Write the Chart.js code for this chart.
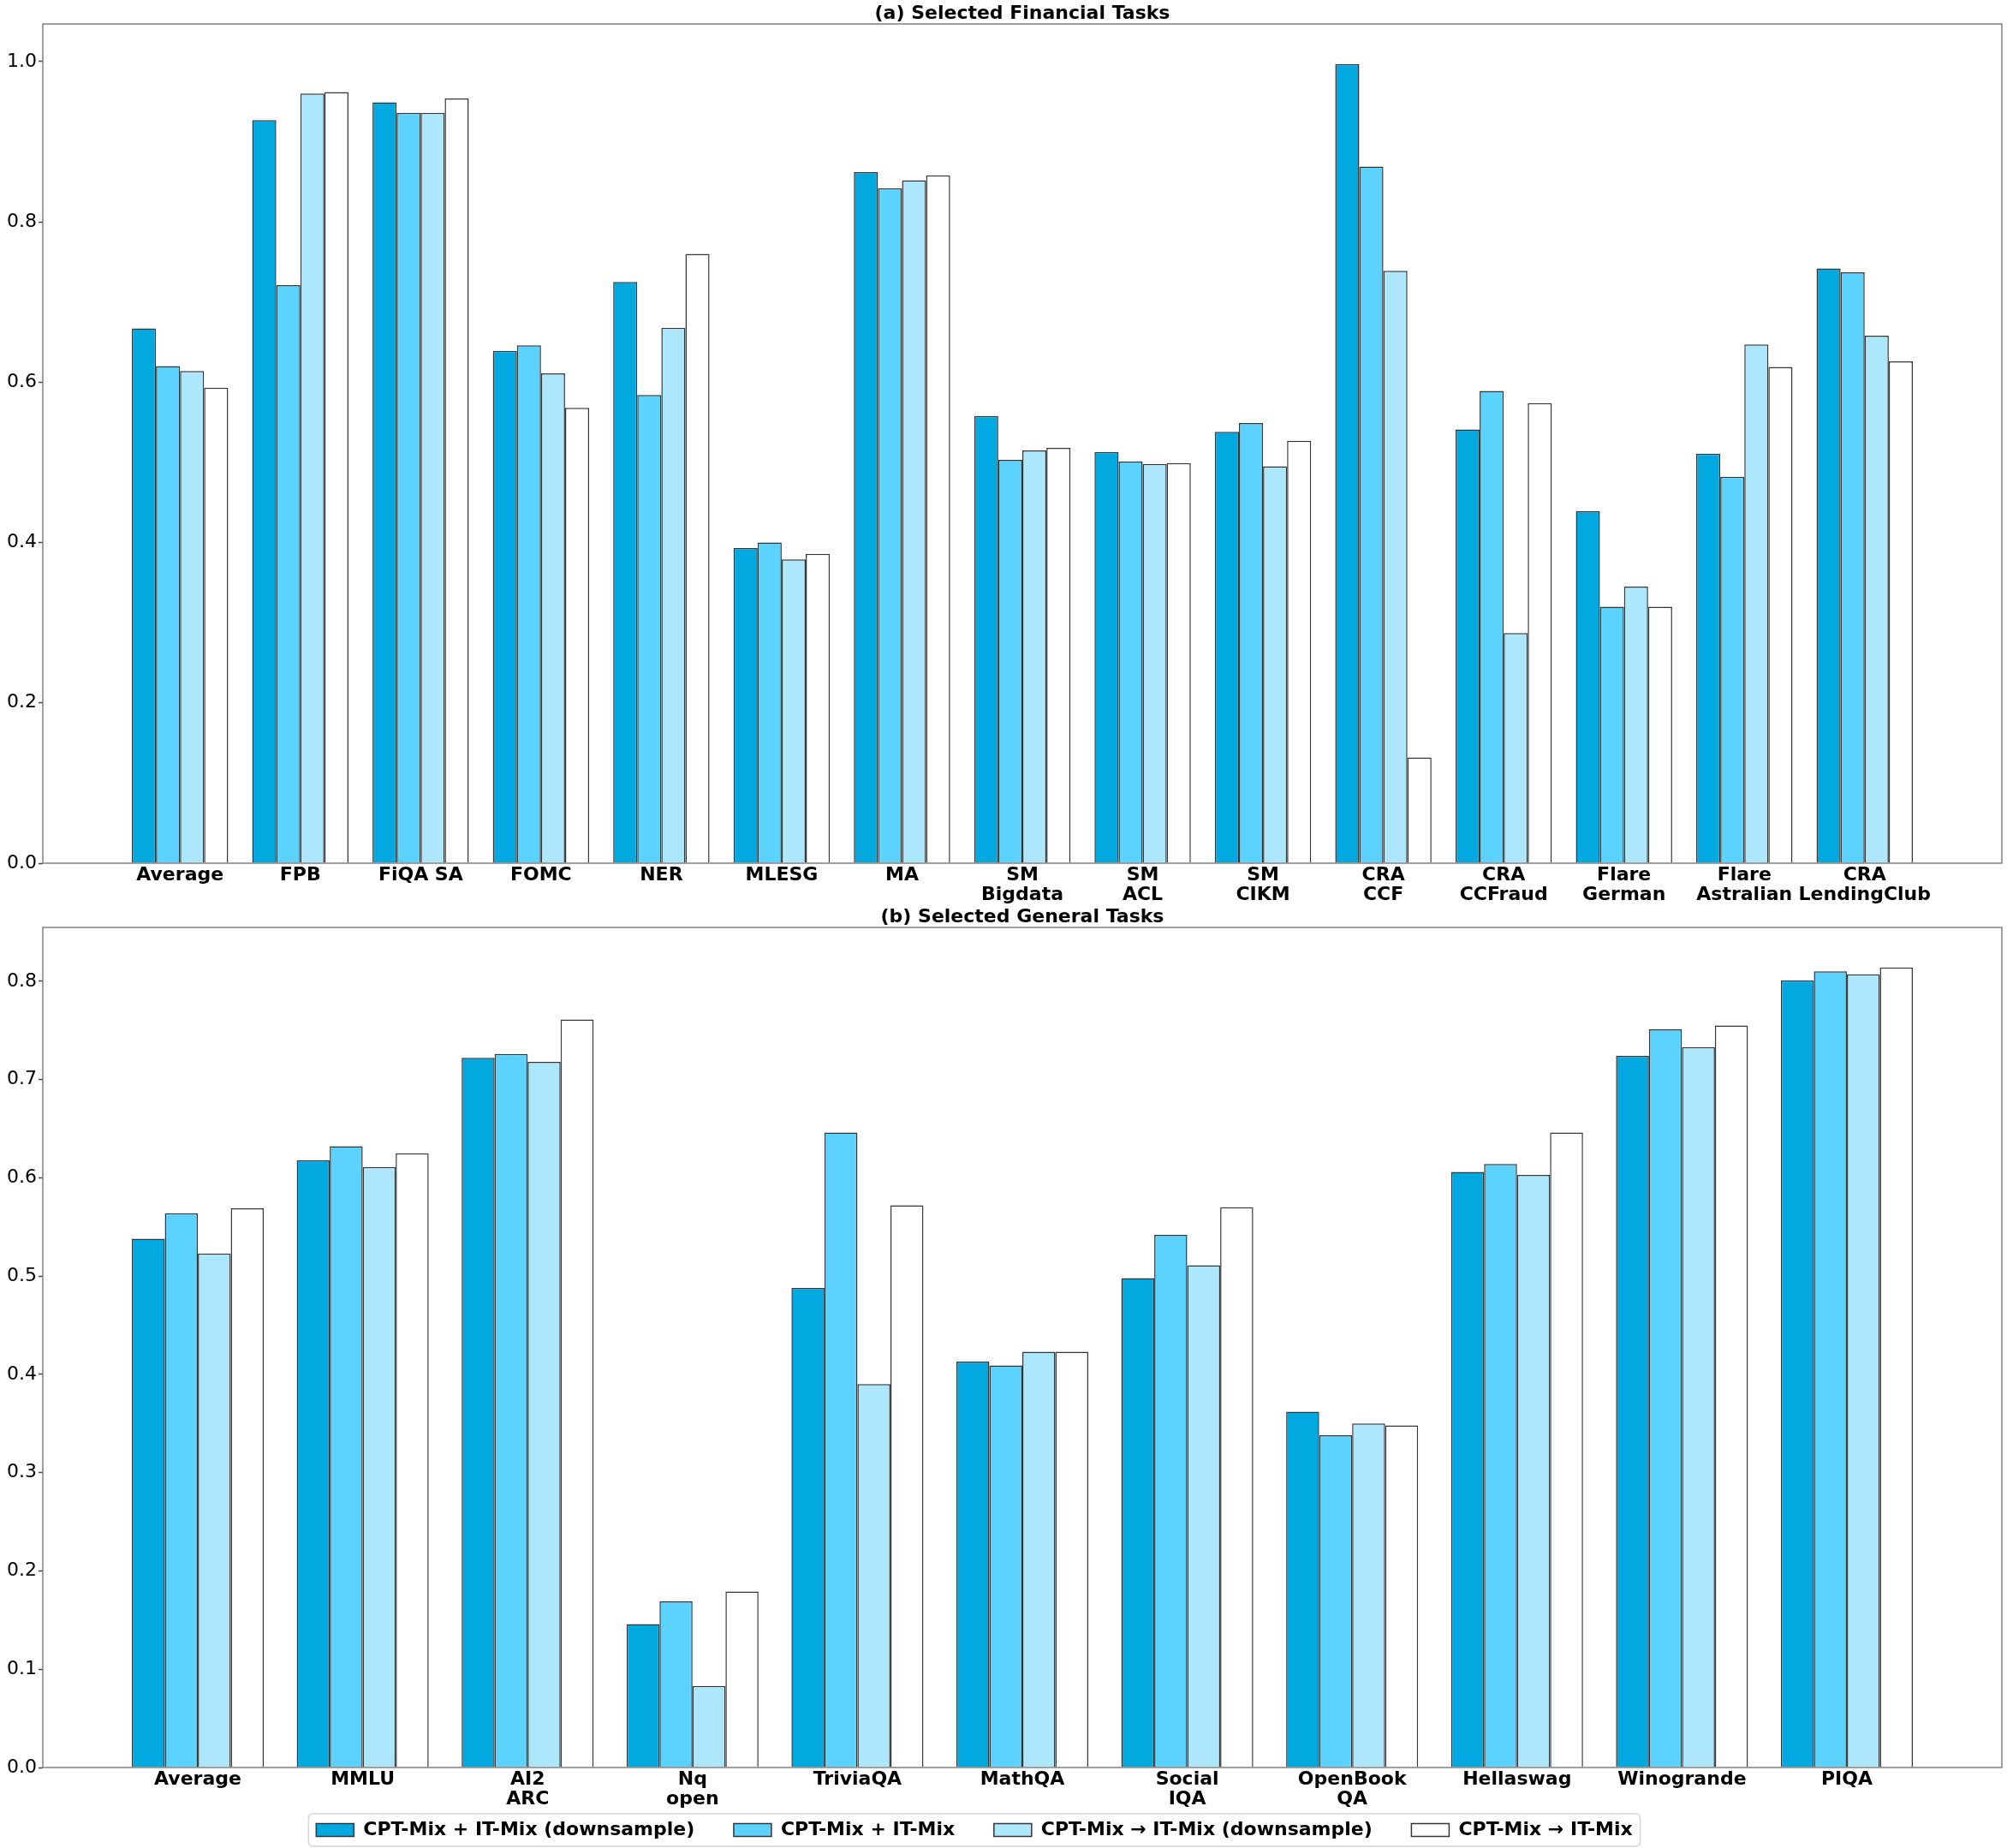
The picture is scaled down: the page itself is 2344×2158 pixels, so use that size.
<!DOCTYPE html>
<html>
<head>
<meta charset="utf-8">
<script src="https://cdn.jsdelivr.net/npm/chart.js@4.4.0/dist/chart.umd.min.js"></script>
<style>
  html, body { margin: 0; padding: 0; background: #fff; overflow: hidden; }
  canvas { display: block; }
</style>
</head>
<body>
<canvas id="fin" width="2344" height="1055"></canvas>
<canvas id="gen" width="2344" height="1103"></canvas>
<script>
// ---- data ----
const seriesNames = ['CPT-Mix + IT-Mix (downsample)', 'CPT-Mix + IT-Mix', 'CPT-Mix \u2192 IT-Mix (downsample)', 'CPT-Mix \u2192 IT-Mix'];

const finTasks = ['Average', 'FPB', 'FiQA SA', 'FOMC', 'NER', 'MLESG', 'MA', ['SM', 'Bigdata'], ['SM', 'ACL'], ['SM', 'CIKM'],
  ['CRA', 'CCF'], ['CRA', 'CCFraud'], ['Flare', 'German'], ['Flare', 'Astralian'], ['CRA', 'LendingClub']];
const finMixDown = [0.667, 0.927, 0.949, 0.639, 0.725, 0.393, 0.862, 0.558, 0.513, 0.538, 0.997, 0.541, 0.439, 0.511, 0.742];
const finMix     = [0.620, 0.721, 0.936, 0.646, 0.584, 0.400, 0.842, 0.503, 0.501, 0.549, 0.869, 0.589, 0.320, 0.482, 0.737];
const finSeqDown = [0.614, 0.960, 0.936, 0.611, 0.668, 0.379, 0.852, 0.515, 0.498, 0.495, 0.739, 0.287, 0.345, 0.647, 0.658];
const finSeq     = [0.593, 0.962, 0.954, 0.568, 0.760, 0.386, 0.858, 0.518, 0.499, 0.527, 0.132, 0.574, 0.320, 0.619, 0.626];

const genTasks = ['Average', 'MMLU', ['AI2', 'ARC'], ['Nq', 'open'], 'TriviaQA', 'MathQA', ['Social', 'IQA'], ['OpenBook', 'QA'],
  'Hellaswag', 'Winogrande', 'PIQA'];
const genMixDown = [0.538, 0.618, 0.722, 0.146, 0.488, 0.413, 0.498, 0.362, 0.606, 0.724, 0.801];
const genMix     = [0.564, 0.632, 0.726, 0.169, 0.646, 0.409, 0.542, 0.338, 0.614, 0.751, 0.810];
const genSeqDown = [0.523, 0.611, 0.718, 0.083, 0.390, 0.423, 0.511, 0.350, 0.603, 0.733, 0.807];
const genSeq     = [0.569, 0.625, 0.761, 0.179, 0.572, 0.423, 0.570, 0.348, 0.646, 0.755, 0.814];

const colors = ['#02a9e1', '#5cd3fe', '#ace7fe', '#ffffff'];

Chart.defaults.font.family = 'DejaVu Sans';
Chart.defaults.color = '#000';

// box round the plot area
const framePlugin = {
  id: 'frame',
  afterDatasetsDraw(chart) {
    const {ctx, chartArea: a} = chart;
    ctx.save();
    ctx.strokeStyle = '#808080';
    ctx.lineWidth = 1.5;
    ctx.strokeRect(a.left, a.top, a.right - a.left, a.bottom - a.top);
    ctx.restore();
  }
};

// nudge the legend and draw a frame round it
const legendBox = {
  id: 'legendBox',
  afterLayout(chart, args, opts) {
    const lg = chart.legend;
    if (lg && opts.shift) { lg.left += opts.shift; lg.right += opts.shift; }
  },
  afterDraw(chart) {
    const lg = chart.legend;
    if (!lg || !lg.options.display || !lg.legendHitBoxes || !lg.legendHitBoxes.length) return;
    const boxes = lg.legendHitBoxes;
    const left = Math.min(...boxes.map(b => b.left)) - 9;
    const right = Math.max(...boxes.map(b => b.left + b.width)) + 9;
    const mid = boxes[0].top + boxes[0].height / 2;
    const ctx = chart.ctx;
    ctx.save();
    ctx.strokeStyle = '#d6d6d6';
    ctx.lineWidth = 1.5;
    ctx.beginPath();
    ctx.roundRect(left, mid - 19, right - left, 38, 5);
    ctx.stroke();
    ctx.restore();
  }
};

function makeChart(id, tasks, series, title, step, showLegend) {
  const n = tasks.length;
  const span = n - 0.2;
  const all = series.flat();
  new Chart(document.getElementById(id), {
    type: 'bar',
    data: {
      datasets: series.map((vals, k) => ({
        label: seriesNames[k],
        data: vals.map((v, i) => ({x: i, y: v})),
        backgroundColor: colors[k],
        borderColor: '#353535',
        borderWidth: 1.5,
        borderSkipped: 'start',
        categoryPercentage: 0.8,
        barPercentage: 1.0
      }))
    },
    options: {
      responsive: false,
      animation: false,
      devicePixelRatio: 1,
      layout: {padding: {left: 0, right: 6, top: 0, bottom: 0}},
      plugins: {
        title: {
          display: true, text: title, fullSize: false, color: '#000',
          font: {size: 22, weight: 'bold', lineHeight: 1},
          padding: {top: 5, bottom: 1}
        },
        legend: {
          display: showLegend,
          position: 'bottom',
          labels: {
            boxWidth: 44, boxHeight: 15, padding: 15, color: '#000',
            font: {size: 22, weight: 'bold'},
            // wider gap between legend columns
            generateLabels: (chart) => {
              const items = Chart.defaults.plugins.legend.labels.generateLabels(chart);
              items.forEach((it, i) => { if (i < items.length - 1) it.text += '    '; });
              return items;
            }
          }
        },
        legendBox: {shift: -31},
        tooltip: {enabled: false}
      },
      scales: {
        x: {
          type: 'linear',
          offset: false,
          min: -0.4 - 0.05 * span,
          max: n - 0.6 + 0.05 * span,
          afterBuildTicks: (scale) => { scale.ticks = tasks.map((t, i) => ({value: i})); },
          afterFit: (scale) => { scale.height = 47; },
          grid: {display: false, drawTicks: false},
          border: {display: false},
          ticks: {
            autoSkip: false, maxRotation: 0, minRotation: 0, padding: 3, color: '#000',
            font: {size: 22, weight: 'bold', lineHeight: 1.05},
            callback: (v, i) => tasks[i]
          }
        },
        y: {
          min: 0,
          max: Math.max(...all) * 1.05,
          afterFit: (scale) => { scale.width = 50; },
          grid: {drawOnChartArea: false, drawTicks: true, tickLength: 5, tickColor: '#444', tickWidth: 1.5},
          border: {display: false},
          ticks: {
            stepSize: step, includeBounds: false, padding: 2, color: '#000',
            font: {size: 22},
            callback: (v) => v.toFixed(1)
          }
        }
      }
    },
    plugins: [framePlugin, legendBox]
  });
}

makeChart('fin', finTasks, [finMixDown, finMix, finSeqDown, finSeq], '(a) Selected Financial Tasks', 0.2, false);
makeChart('gen', genTasks, [genMixDown, genMix, genSeqDown, genSeq], '(b) Selected General Tasks', 0.1, true);
</script>
</body>
</html>
